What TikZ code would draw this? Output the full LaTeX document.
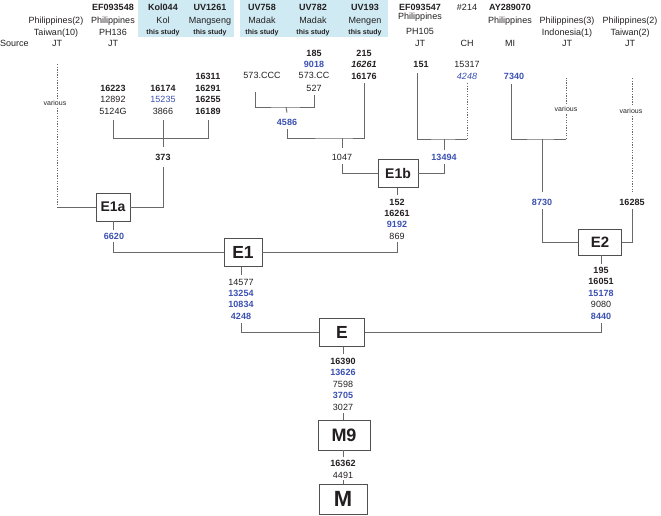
\documentclass[tikz,border=0pt]{standalone}
\usepackage{fontspec}
\setmainfont{Liberation Sans}
\definecolor{txt}{RGB}{35,31,32}
\definecolor{blu}{RGB}{58,80,178}
\definecolor{lng}{RGB}{105,105,105}
\definecolor{hdr}{RGB}{207,234,243}
\definecolor{bxd}{RGB}{80,80,80}
\tikzset{
 t/.style={inner sep=0pt, text height=6.5pt, text depth=0pt, font=\fontsize{9}{10}\selectfont, text=txt},
 tb/.style={t, font=\fontsize{9}{10}\selectfont\bfseries},
 tbl/.style={tb, text=blu},
 tst/.style={inner sep=0pt, text height=5pt, text depth=0pt, font=\fontsize{7}{8}\selectfont\bfseries, text=txt},
 var/.style={inner sep=2pt, text height=5pt, text depth=0pt, font=\fontsize{7}{8}\selectfont, text=txt},
 ln/.style={draw=lng, line width=0.9pt},
 dl/.style={draw=lng, line width=0.9pt, dash pattern=on 1.3pt off 1.3pt},
 hbox/.style={draw=bxd, line width=0.9pt, fill=white, inner sep=0pt, text=txt},
}
\begin{document}
\begin{tikzpicture}[x=1pt,y=-1pt]
\useasboundingbox (0,0) rectangle (661,515);
% header backgrounds
\fill[hdr] (138,0) rectangle (234,37);
\fill[hdr] (240,0) rectangle (388,37);
% header texts
\node[t, anchor=west] (src) at (0,43) {Source};
\node[t] (h1a) at (56,20) {Philippines(2)};
\node[t] (h1b) at (56,32) {Taiwan(10)};
\node[t] (h1c) at (57,43) {JT};
\node[tb] (h2a) at (113,7) {EF093548};
\node[t] (h2b) at (113,20) {Philippines};
\node[t] (h2c) at (113,32) {PH136};
\node[t] (h2d) at (113,43) {JT};
\node[tb] (h3a) at (163,7) {Kol044};
\node[t] (h3b) at (163,20) {Kol};
\node[tst] (h3c) at (163,32) {this study};
\node[tb] (h4a) at (210,7) {UV1261};
\node[t] (h4b) at (210,20) {Mangseng};
\node[tst] (h4c) at (210,32) {this study};
\node[tb] (h5a) at (262,7) {UV758};
\node[t] (h5b) at (262,20) {Madak};
\node[tst] (h5c) at (262,32) {this study};
\node[tb] (h6a) at (313,7) {UV782};
\node[t] (h6b) at (313,20) {Madak};
\node[tst] (h6c) at (313,32) {this study};
\node[tb] (h7a) at (365,7) {UV193};
\node[t] (h7b) at (365,20) {Mengen};
\node[tst] (h7c) at (365,32) {this study};
\node[tb] (h8a) at (420,7) {EF093547};
\node[t] (h8b) at (420,16.5) {Philippines};
\node[t] (h8c) at (420,31) {PH105};
\node[t] (h8d) at (420,43) {JT};
\node[t] (h9a) at (467,7) {\#214};
\node[t] (h9d) at (467,43) {CH};
\node[tb] (h10a) at (510,7) {AY289070};
\node[t] (h10b) at (510,20) {Philippines};
\node[t] (h10d) at (510,43) {MI};
\node[t] (h11a) at (567,20) {Philippines(3)};
\node[t] (h11b) at (567,32) {Indonesia(1)};
\node[t] (h11c) at (567,43) {JT};
\node[t] (h12a) at (630,20) {Philippines(2)};
\node[t] (h12b) at (630,32) {Taiwan(2)};
\node[t] (h12c) at (630,43) {JT};
% E1a group texts
\node[tb] (c1a) at (113,88) {16223};
\node[t] (c1b) at (113,99.5) {12892};
\node[t] (c1c) at (113,111) {5124G};
\node[tb] (c2a) at (163,88) {16174};
\node[t, text=blu] (c2b) at (163,99.5) {15235};
\node[t] (c2c) at (163,111) {3866};
\node[tb] (c3a) at (208,76.5) {16311};
\node[tb] (c3b) at (208,88) {16291};
\node[tb] (c3c) at (208,99.5) {16255};
\node[tb] (c3d) at (208,111) {16189};
\node[tb] (n373) at (163,157) {373};
\node[var] (var1) at (55,103) {various};
\node[tbl] (n6620) at (114,236) {6620};
% E1b group texts
\node[t] (n573ccc) at (262,75) {573.CCC};
\node[tb] (n185) at (314,53) {185};
\node[tbl] (n9018) at (314,64) {9018};
\node[t] (n573cc) at (314,75) {573.CC};
\node[t] (n527) at (314,88) {527};
\node[tb] (n215) at (364,53) {215};
\node[tb, font=\fontsize{9}{10}\selectfont\bfseries\itshape] (n16261a) at (364,64.5) {16261};
\node[tb] (n16176) at (364,76) {16176};
\node[tbl] (n4586) at (287,122) {4586};
\node[t] (n1047) at (342,157) {1047};
\node[tb] (n151) at (421,64) {151};
\node[t] (n15317) at (467,64) {15317};
\node[t, text=blu, font=\fontsize{9}{10}\selectfont\itshape] (n4248a) at (467,76) {4248};
\node[tbl] (n13494) at (444,157) {13494};
\node[tb] (n152) at (397,202) {152};
\node[tb] (n16261b) at (397,213) {16261};
\node[tbl] (n9192) at (397,224.5) {9192};
\node[t] (n869) at (397,236) {869};
% E2 group texts
\node[tbl] (n7340) at (514,76) {7340};
\node[var] (var2) at (566,109) {various};
\node[tbl] (n8730) at (542,202) {8730};
\node[var] (var3) at (631,111) {various};
\node[tb] (n16285) at (632,202) {16285};
\node[tb] (n195) at (601,270) {195};
\node[tb] (n16051) at (601,281.5) {16051};
\node[tbl] (n15178) at (601,293) {15178};
\node[t] (n9080) at (601,304.5) {9080};
\node[tbl] (n8440) at (601,316) {8440};
% E1 below
\node[t] (n14577) at (241,282) {14577};
\node[tbl] (n13254) at (241,293) {13254};
\node[tbl] (n10834) at (241,304.5) {10834};
\node[tbl] (n4248b) at (241,316) {4248};
% E below
\node[tb] (n16390) at (343,361) {16390};
\node[tbl] (n13626) at (343,372.5) {13626};
\node[t] (n7598) at (343,384) {7598};
\node[tbl] (n3705) at (343,395.5) {3705};
\node[t] (n3027) at (343,407) {3027};
\node[tb] (n16362) at (343,463) {16362};
\node[t] (n4491) at (343,475) {4491};
% boxes
\node[hbox, minimum width=34pt, minimum height=28pt, font=\fontsize{14}{14}\selectfont\bfseries] (E1a) at (113,207) {E1a};
\node[hbox, minimum width=40pt, minimum height=28pt, font=\fontsize{14}{14}\selectfont\bfseries] (E1b) at (398,173.5) {E1b};
\node[hbox, minimum width=38pt, minimum height=28pt, font=\fontsize{17.5}{17.5}\selectfont\bfseries] (E1) at (243,252.5) {E1};
\node[hbox, minimum width=43pt, minimum height=26pt, font=\fontsize{15}{15}\selectfont\bfseries] (E2) at (600,242) {E2};
\node[hbox, minimum width=45pt, minimum height=28pt, font=\fontsize{17.5}{17.5}\selectfont\bfseries] (E) at (342,332.5) {E};
\node[hbox, minimum width=52pt, minimum height=30pt, font=\fontsize{18}{18}\selectfont\bfseries] (M9) at (344,435) {M9};
\node[hbox, minimum width=48pt, minimum height=30pt, font=\fontsize{22}{22}\selectfont\bfseries] (M) at (343,499) {M};
% ---- connectors ----
% E1a group
\coordinate (j373) at (163,138);
\draw[ln] ([yshift=-6pt]c1c.south) -- (c1c.south |- j373) -- (c3d.south |- j373) -- ([yshift=-6pt]c3d.south);
\draw[ln] ([yshift=-6pt]c2c.south) -- ([yshift=7pt]n373.north);
\draw[ln] ([yshift=-7pt]n373.south) |- (E1a.east);
\coordinate (v1t) at (57,64);
\coordinate (v1b) at (57,207);
\draw[dl] (v1t) -- (v1t |- var1.north);
\draw[dl] (v1t |- var1.south) -- (v1b);
\draw[ln] (v1b) -- (E1a.west);
\draw[ln] (E1a.south) -- ([xshift=-1pt,yshift=3pt]n6620.north);
\draw[ln] ([xshift=-1pt,yshift=-3pt]n6620.south) |- (E1.west);
\draw[ln] (E1.east) -| ([yshift=-3pt]n869.south);
% E1b group
\coordinate (j4586) at (286,107);
\draw[ln] ([xshift=-7pt,yshift=-14pt]n573ccc.south) |- (j4586) -| ([yshift=-4pt]n527.south);
\draw[ln] (j4586) -- ([yshift=6pt]n4586.north);
\coordinate (j1047) at (342,138);
\draw[ln] ([yshift=-4pt]n4586.south) |- (j1047) -| ([yshift=-4pt]n16176.south);
\draw[ln] (j1047) -- ([yshift=6pt]n1047.north);
\draw[ln] ([yshift=-4pt]n1047.south) |- (E1b.west);
\coordinate (j13494) at (444,139);
\draw[ln] ([xshift=-4pt,yshift=-6pt]n151.south) |- (j13494) -- (n4248a.south |- j13494);
\draw[dl] (n4248a.south |- j13494) -- ([yshift=-3pt]n4248a.south);
\draw[ln] (j13494) -- ([yshift=4pt]n13494.north);
\draw[ln] (E1b.east) -| ([yshift=-4pt]n13494.south);
\draw[ln] (n152 |- E1b.south) -- ([yshift=4pt]n152.north);
% E2 group
\coordinate (j8730) at (542,139);
\coordinate (v2t) at (566,78);
\draw[ln] ([xshift=-3pt,yshift=-5pt]n7340.south) |- (j8730) -- (v2t |- j8730);
\draw[dl] (v2t |- j8730) -- (v2t |- var2.south);
\draw[dl] (v2t |- var2.north) -- (v2t);
\draw[ln] (j8730) -- ([yshift=7pt]n8730.north);
\draw[ln] ([yshift=-4pt]n8730.south) |- (E2.west);
\coordinate (v3t) at (632,78);
\draw[dl] (v3t) -- (v3t |- var3.north);
\draw[dl] (v3t |- var3.south) -- ([yshift=6pt]n16285.north);
\draw[ln] (E2.east) -| ([yshift=-4pt]n16285.south);
\draw[ln] (n195 |- E2.south) -- ([yshift=3pt]n195.north);
% E
\draw[ln] (n14577 |- E1.south) -- ([yshift=4pt]n14577.north);
\draw[ln] ([yshift=-4pt]n4248b.south) |- (E.west);
\draw[ln] ([yshift=-4pt]n8440.south) |- (E.east);
\draw[ln] (n16390 |- E.south) -- ([yshift=4pt]n16390.north);
\draw[ln] ([yshift=-3pt]n3027.south) -- (n3027 |- M9.north);
\draw[ln] (n16362 |- M9.south) -- ([yshift=3pt]n16362.north);
\draw[ln] ([yshift=-2pt]n4491.south) -- (M.north);
\end{tikzpicture}
\end{document}
